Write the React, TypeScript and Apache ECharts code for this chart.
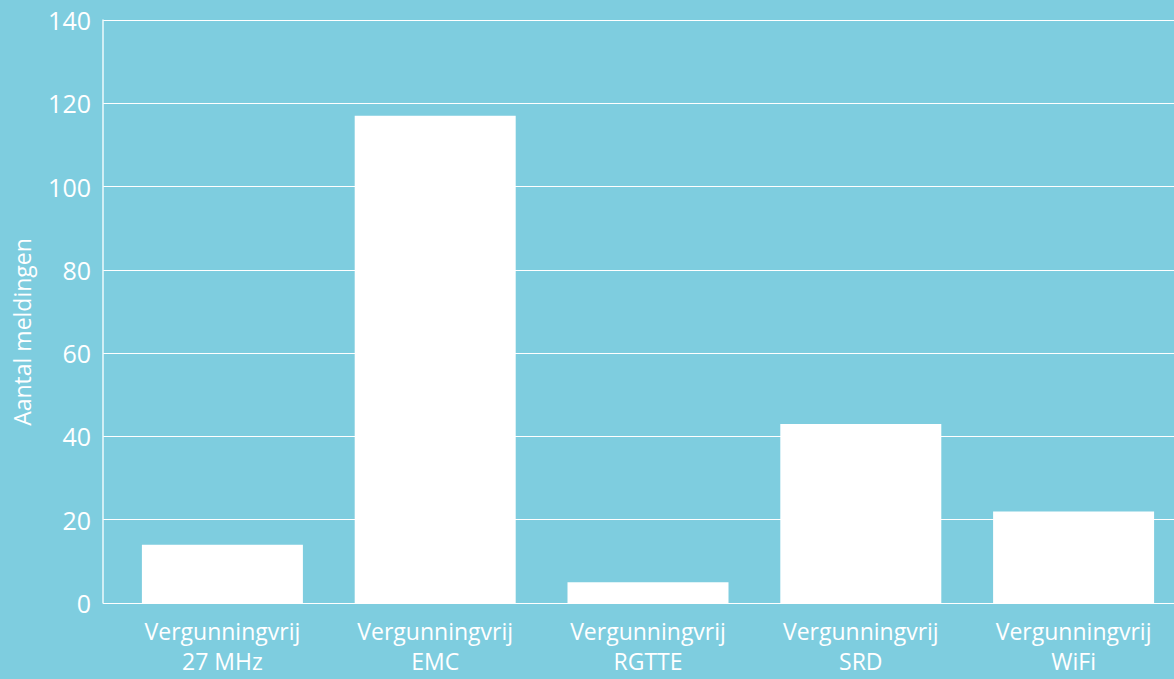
import React, { useEffect, useRef } from "react";
import * as echarts from "echarts";

const categories = [
  "Vergunningvrij\n27 MHz",
  "Vergunningvrij\nEMC",
  "Vergunningvrij\nRGTTE",
  "Vergunningvrij\nSRD",
  "Vergunningvrij\nWiFi",
];
const meldingen = [14, 117, 5, 43, 22];
const yTicks = [0, 20, 40, 60, 80, 100, 120, 140];
const yAxisTitle = "Aantal meldingen";

const BG = "#7ecddf";
const FONT = "'Open Sans', sans-serif";

export default function App() {
  const ref = useRef<HTMLDivElement>(null);
  useEffect(() => {
    if (!ref.current) return;
    const chart = echarts.init(ref.current, undefined, { renderer: "svg" });
    const yMin = yTicks[0];
    const yMax = yTicks[yTicks.length - 1];
    const step = yTicks[1] - yTicks[0];
    chart.setOption({
      animation: false,
      backgroundColor: BG,
      grid: [
        { left: 103, right: 8, top: 20, bottom: 76, containLabel: false },
        { left: 116, right: 2, top: 20, bottom: 76, containLabel: false },
      ],
      xAxis: [
        {
          gridIndex: 0,
          type: "category",
          data: categories,
          show: false,
        },
        {
          gridIndex: 1,
          type: "category",
          data: categories,
          axisLine: { show: false },
          axisTick: { show: false },
          axisLabel: {
            color: "#ffffff",
            fontFamily: FONT,
            fontSize: 23,
            lineHeight: 30,
            margin: 13,
            interval: 0,
          },
        },
      ],
      yAxis: [
        {
          gridIndex: 0,
          type: "value",
          min: yMin,
          max: yMax,
          interval: step,
          axisLine: { show: true, lineStyle: { color: "#eef8fb", width: 1.5 } },
          axisTick: { show: false },
          splitLine: { show: true, lineStyle: { color: "#ffffff", width: 1.2 } },
          axisLabel: {
            color: "#ffffff",
            fontFamily: FONT,
            fontSize: 25,
            margin: 12,
          },
        },
        {
          gridIndex: 1,
          type: "value",
          min: yMin,
          max: yMax,
          interval: step,
          show: false,
          splitLine: { show: false },
        },
      ],
      graphic: [
        {
          type: "text",
          x: 22,
          y: 332,
          rotation: Math.PI / 2,
          style: {
            text: yAxisTitle,
            fill: "#ffffff",
            font: `23px ${FONT}`,
            textAlign: "center",
            textVerticalAlign: "middle",
          },
        },
      ],
      series: [
        {
          type: "bar",
          xAxisIndex: 1,
          yAxisIndex: 1,
          data: meldingen,
          barWidth: 161,
          itemStyle: { color: "#ffffff" },
        },
      ],
    });
    return () => chart.dispose();
  }, []);
  return (
    <div style={{ position: "fixed", left: 0, top: 0, width: 1174, height: 679, overflow: "hidden" }}>
      <div ref={ref} style={{ width: 1182, height: 679 }} />
    </div>
  );
}
